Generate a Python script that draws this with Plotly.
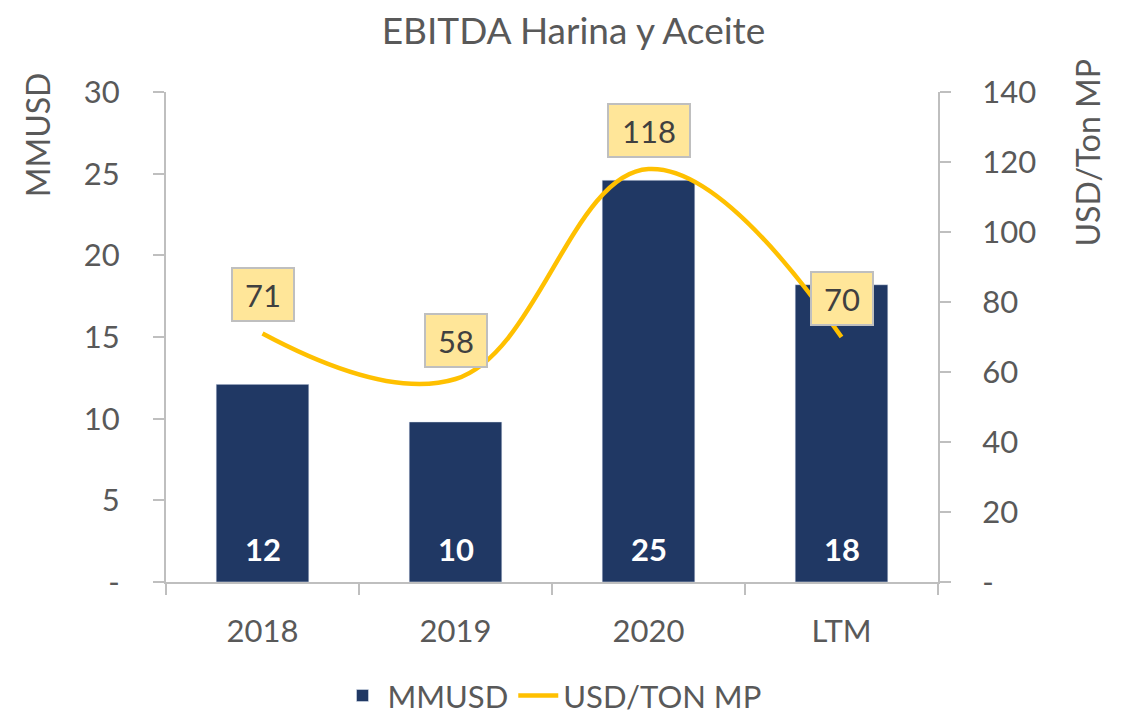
import plotly.graph_objects as go

categories = ["2018", "2019", "2020", "LTM"]
mmusd = [12.1, 9.8, 24.6, 18.2]
mmusd_labels = ["12", "10", "25", "18"]
usd_ton = [71, 58, 118, 70]
usd_ton_labels = ["71", "58", "118", "70"]
left_ticks = [0, 5, 10, 15, 20, 25, 30]
left_ticktext = ["-", "5", "10", "15", "20", "25", "30"]
right_ticks = [0, 20, 40, 60, 80, 100, 120, 140]
right_ticktext = ["-", "20", "40", "60", "80", "100", "120", "140"]

FONT = "Lato, Carlito, Calibri, sans-serif"
GREY = "#595959"
AXIS = "#BFBFBF"
FS = 31

fig = go.Figure()
fig.add_trace(go.Bar(
    x=categories, y=mmusd, name="MMUSD",
    marker=dict(color="#203864"),
    yaxis="y",
))
fig.add_trace(go.Scatter(
    x=categories, y=usd_ton, name="USD/TON MP", mode="lines",
    line=dict(color="#FFC000", width=4.5, shape="spline", smoothing=1.15),
    yaxis="y2",
))

# bar value labels, near the bar base (category index used as x)
for i, t in enumerate(mmusd_labels):
    fig.add_annotation(
        x=i, y=0, xref="x", yref="y", text=t, showarrow=False,
        yanchor="middle", yshift=33,
        font=dict(size=FS, color="white", family=FONT, weight="bold"),
    )

# line value labels in boxes
for i, (v, t) in enumerate(zip(usd_ton, usd_ton_labels)):
    fig.add_annotation(
        x=i, y=v, xref="x", yref="y2", text=t, showarrow=False,
        yshift=39, bgcolor="#FFE699", bordercolor="#BFBFBF", borderwidth=2,
        width=58 if len(t) < 3 else 78, height=49,
        font=dict(size=FS, color="#404040", family=FONT),
    )

fig.add_annotation(text="MMUSD", xref="paper", yref="paper", x=-0.166, y=1.045,
                   xanchor="center", yanchor="top", showarrow=False, textangle=-90,
                   font=dict(size=32, color=GREY, family=FONT))
fig.add_annotation(text="USD/Ton MP", xref="paper", yref="paper", x=1.194, y=1.071,
                   xanchor="center", yanchor="top", showarrow=False, textangle=-90,
                   font=dict(size=32, color=GREY, family=FONT))

fig.update_layout(
    width=1131, height=718,
    margin=dict(l=158, r=201, t=84, b=144, autoexpand=False),
    paper_bgcolor="white", plot_bgcolor="white",
    font=dict(family=FONT, color=GREY, size=FS),
    title=dict(text="EBITDA Harina y Aceite", x=0.5, xanchor="center", y=0.968, yanchor="middle",
               font=dict(size=37, color=GREY, family=FONT)),
    bargap=0.52,
    showlegend=True,
    legend=dict(orientation="h", x=0.5, xanchor="center", yref="container", y=0.042,
                yanchor="middle", font=dict(size=FS, color=GREY, family=FONT),
                itemwidth=40, tracegroupgap=0),
    xaxis=dict(type="category", range=[-0.5, len(categories) - 0.5], showline=True,
               linecolor=AXIS, linewidth=2, ticks="outside",
               tickson="boundaries", ticklen=11, tickcolor=AXIS, tickwidth=2, showgrid=False,
               ticklabelstandoff=21, tickangle=0, tickfont=dict(size=FS, color=GREY)),
    yaxis=dict(range=[0, 30], tickvals=left_ticks, ticktext=left_ticktext, showline=True,
               linecolor=AXIS, linewidth=2, ticks="outside", ticklen=11, tickcolor=AXIS, tickwidth=2,
               showgrid=False, zeroline=False, ticklabelstandoff=27,
               tickfont=dict(size=FS, color=GREY)),
    yaxis2=dict(range=[0, 140], tickvals=right_ticks, ticktext=right_ticktext, overlaying="y",
                side="right", showline=True, linecolor=AXIS, linewidth=2, ticks="outside",
                ticklen=11, tickcolor=AXIS, tickwidth=2, showgrid=False, zeroline=False,
                ticklabelstandoff=25, tickfont=dict(size=FS, color=GREY)),
)

fig.write_html("out.html")
